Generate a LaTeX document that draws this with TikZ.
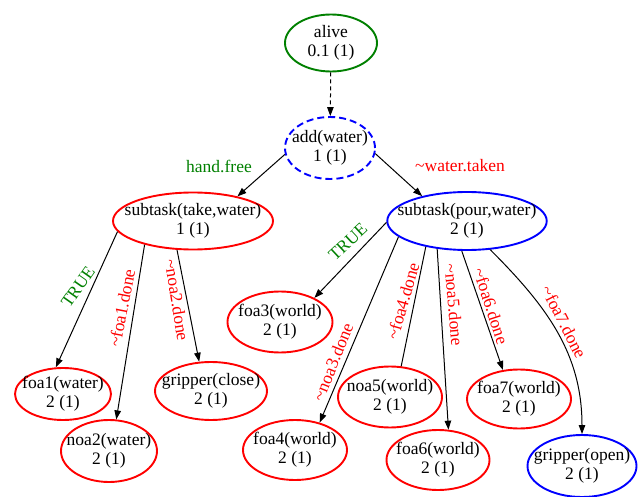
\documentclass[tikz,border=0pt]{standalone}
\usepackage{fontspec}
\setmainfont{Liberation Serif}
\usetikzlibrary{arrows.meta,shapes.geometric}
\definecolor{gvgreen}{RGB}{0,128,0}
\tikzset{
    st/.style={ellipse,draw=#1,line width=1.9pt,inner xsep=-13pt,inner ysep=0pt,align=center},
    edge/.style={line width=1pt,-{Triangle[length=9pt,width=6.5pt]}},
    lbl/.style={inner sep=0pt}
}
\newcommand{\nt}{\textasciitilde}
\begin{document}
\begin{tikzpicture}[x=1pt,y=-1pt,font=\fontsize{17.5}{19}\selectfont]
        \useasboundingbox (0,0) rectangle (640,497);
        % nodes
        \node [st=gvgreen,minimum width=92pt,minimum height=57pt] (alive) at(331,43) {alive\\0.1 (1)};
        \node [st=blue,dash pattern=on 7pt off 4pt,minimum width=90pt,minimum height=62pt] (add) at(330,148) {add(water)\\1 (1)};
        \node [st=red,minimum width=160pt,minimum height=57pt] (take) at(193,221) {subtask(take,water)\\1 (1)};
        \node [st=blue,minimum width=158pt,minimum height=58pt] (pour) at(467,221) {subtask(pour,water)\\2 (1)};
        \node [st=red,minimum width=96pt,minimum height=52pt] (foa1) at(63,394) {foa1(water)\\2 (1)};
        \node [st=red,minimum width=96pt,minimum height=62pt] (noa2) at(109,451) {noa2(water)\\2 (1)};
        \node [st=red,minimum width=112pt,minimum height=58pt] (grclose) at(211,391) {gripper(close)\\2 (1)};
        \node [st=red,minimum width=105pt,minimum height=61pt] (foa3) at(280,322) {foa3(world)\\2 (1)};
        \node [st=red,minimum width=104pt,minimum height=60pt] (foa4) at(295,450) {foa4(world)\\2 (1)};
        \node [st=red,minimum width=104pt,minimum height=61pt] (noa5) at(390,397) {noa5(world)\\2 (1)};
        \node [st=red,minimum width=103pt,minimum height=60pt] (foa6) at(438,460) {foa6(world)\\2 (1)};
        \node [st=red,minimum width=104pt,minimum height=59pt] (foa7) at(519,399) {foa7(world)\\2 (1)};
        \node [st=blue,minimum width=109pt,minimum height=62pt] (gropen) at(582,466) {gripper(open)\\2 (1)};
        % edges
        \draw [edge,dash pattern=on 4pt off 3pt] (alive) -- (add);
        \draw [edge] (add.188)--(take.29) node [lbl,gvgreen] (hf) at(219,166) {hand.free};
        \draw [edge] (add.353)--(pour.151) node [lbl,red] (wt) at(460,166) {\nt water.taken};
        \draw [edge] (take.188)--(foa1.105) node [lbl,gvgreen,rotate=55] (tr1) at(78,287) {TRUE};
        \draw [edge] (take.206)--(noa2.77) node [lbl,red,rotate=79] (nf1) at(122,308) {\nt foa1.done};
        \draw [edge] (take.241)--(grclose.112) node [lbl,red,rotate=-81] (nn2) at(177,300) {\nt noa2.done};
        \draw [edge] (pour.181)--(foa3.35) node [lbl,gvgreen,rotate=43] (tr2) at(348,242) {TRUE};
        \draw [edge] (pour.193)--(foa4.48) node [lbl,red,rotate=68] (nn3) at(333,362) {\nt noa3.done};
        \draw [edge,-] (pour.212)--(noa5.70) node [lbl,red,rotate=74] (nf4) at(403,301) {\nt foa4.done};
        \draw [edge] (pour.223)--(foa6.71) node [lbl,red,rotate=-85] (nn5) at(454,305) {\nt noa5.done};
        \draw [edge] (pour.260)--(foa7.119) node [lbl,red,rotate=-72] (nf6) at(491,306) {\nt foa6.done};
        \draw [edge] (pour.309) to[out=-45,in=90] (gropen.90);
        \node [lbl,red,rotate=-63] (nf7) at(564,322) {\nt foa7.done};
\end{tikzpicture}
\end{document}
